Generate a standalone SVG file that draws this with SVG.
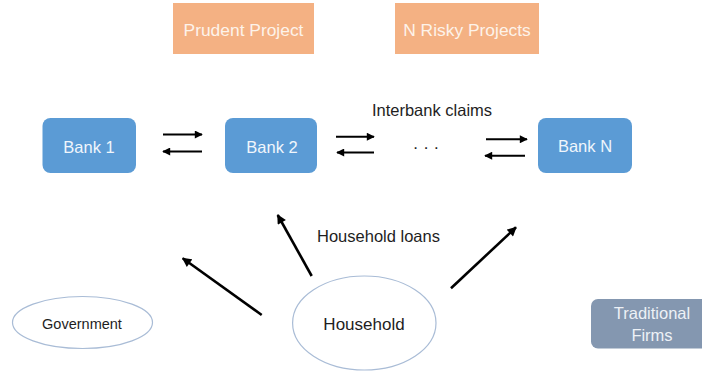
<svg xmlns="http://www.w3.org/2000/svg" width="702" height="375" viewBox="0 0 702 375">
  <defs>
    <style>
      text { font-family: "Liberation Sans", Arial, sans-serif; text-anchor: middle; }
      .proj { fill: #f4b183; }
      .projtxt { fill: #fdf3ea; font-size: 17.4px; }
      .bank { fill: #5b9bd5; }
      .banktxt { fill: #f0f6fc; font-size: 16.5px; }
      .ell { fill: #ffffff; stroke: #a9bcd6; stroke-width: 1.2; }
      .dark { fill: #1e1e1e; }
      .ib { stroke: #000; stroke-width: 2; fill: none; }
      .hl { stroke: #000; stroke-width: 2.6; fill: none; }
    </style>
    <marker id="ah" viewBox="0 0 10 10" refX="9" refY="5" markerWidth="4.5" markerHeight="4" markerUnits="strokeWidth" orient="auto">
      <path d="M0,0 L10,5 L0,10 z" fill="#000"/>
    </marker>
    <marker id="ah2" viewBox="0 0 10 10" refX="9" refY="5" markerWidth="4" markerHeight="3.6" markerUnits="strokeWidth" orient="auto">
      <path d="M0,0 L10,5 L0,10 z" fill="#000"/>
    </marker>
  </defs>

  <rect width="702" height="375" fill="#ffffff"/>

  <g id="prudent-project">
    <rect class="proj" x="173" y="3" width="141" height="51"/>
    <text class="projtxt" x="243.5" y="36">Prudent Project</text>
  </g>
  <g id="risky-projects">
    <rect class="proj" x="395" y="3" width="144" height="51"/>
    <text class="projtxt" x="467" y="36">N Risky Projects</text>
  </g>

  <g id="bank-1">
    <rect class="bank" x="42.5" y="118" width="93.5" height="55" rx="8"/>
    <text class="banktxt" x="89" y="152.5">Bank 1</text>
  </g>
  <g id="bank-2">
    <rect class="bank" x="225" y="118" width="92" height="55" rx="8"/>
    <text class="banktxt" x="272" y="152.5">Bank 2</text>
  </g>
  <g id="bank-n">
    <rect class="bank" x="538" y="118" width="94" height="55" rx="8"/>
    <text class="banktxt" x="585" y="152">Bank N</text>
  </g>

  <g id="government">
    <ellipse class="ell" cx="82.5" cy="322.5" rx="70" ry="26"/>
    <text class="dark" x="82" y="328.5" font-size="14.5">Government</text>
  </g>
  <g id="household">
    <ellipse class="ell" cx="364.3" cy="323" rx="71.7" ry="47"/>
    <text class="dark" x="364" y="330" font-size="17">Household</text>
  </g>
  <g id="traditional-firms">
    <rect x="591" y="299" width="125" height="49.5" rx="7" fill="#8497b0"/>
    <text x="652" y="318.5" font-size="16.5" fill="#edf1f6">Traditional</text>
    <text x="652" y="340.5" font-size="16.5" fill="#edf1f6">Firms</text>
  </g>

  <g id="labels">
    <text class="dark" x="432" y="116" font-size="16.5">Interbank claims</text>
    <text class="dark" x="426" y="152.5" font-size="17">· · ·</text>
    <text class="dark" x="378.5" y="241.5" font-size="16.5">Household loans</text>
  </g>

  <g id="connectors">
    <line class="ib" x1="163" y1="134.5" x2="202" y2="134.5" marker-end="url(#ah)"/>
    <line class="ib" x1="202" y1="151.5" x2="163" y2="151.5" marker-end="url(#ah)"/>
    <line class="ib" x1="336" y1="136.7" x2="374" y2="136.7" marker-end="url(#ah)"/>
    <line class="ib" x1="374" y1="152.5" x2="337" y2="152.5" marker-end="url(#ah)"/>
    <line class="ib" x1="486" y1="139.3" x2="527" y2="139.3" marker-end="url(#ah)"/>
    <line class="ib" x1="525" y1="155.7" x2="485" y2="155.7" marker-end="url(#ah)"/>
    <line class="hl" x1="261.7" y1="315" x2="182.7" y2="258.3" marker-end="url(#ah2)"/>
    <line class="hl" x1="311.7" y1="276" x2="277.7" y2="215" marker-end="url(#ah2)"/>
    <line class="hl" x1="451" y1="288.3" x2="516" y2="227.3" marker-end="url(#ah2)"/>
  </g>
</svg>
